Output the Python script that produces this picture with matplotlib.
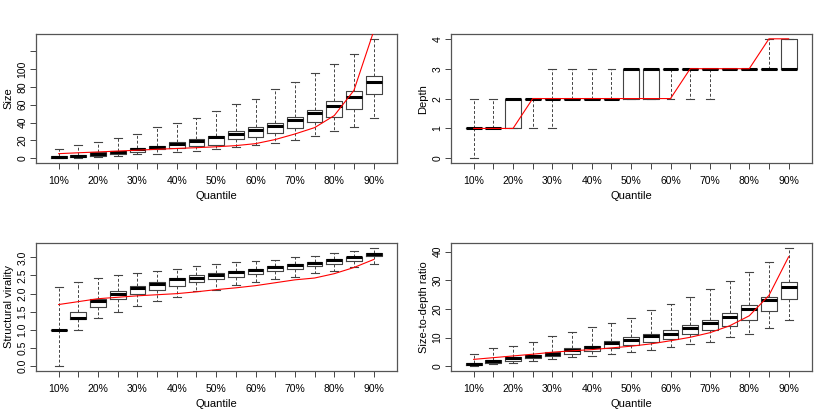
import matplotlib.pyplot as plt

plt.rcParams['font.family'] = ['Liberation Sans', 'DejaVu Sans']

# 17 quantile positions, labels shown on every other one (as in R output)
quantiles = ["10%", "15%", "20%", "25%", "30%", "35%", "40%", "45%", "50%",
             "55%", "60%", "65%", "70%", "75%", "80%", "85%", "90%"]
tick_labels = ["10%", "", "20%", "", "30%", "", "40%", "", "50%",
               "", "60%", "", "70%", "", "80%", "", "90%"]

# --- Size ---
size_lo = [0, 0.7, 1.9, 3, 4.5, 5.2, 7.5, 8.6, 10.8, 13, 15, 17.5, 21, 24.6, 30, 35.4, 44.8]
size_q1 = [0.4, 1.5, 3, 4.5, 7, 10, 11.6, 13.8, 15, 21.6, 24, 28.7, 33.6, 40.7, 46.6, 55.6, 72]
size_med = [1.5, 2.6, 5.2, 7.1, 10.4, 13, 16.4, 19.4, 23.5, 27.6, 32, 36.6, 43, 50.4, 58, 69, 85.4]
size_q3 = [2.2, 3.7, 6.7, 8.6, 12, 14, 18.3, 22, 25, 30, 35, 40, 46.6, 54, 64, 75.4, 92]
size_hi = [10.8, 14.6, 18.7, 23, 27.6, 34.7, 40, 45, 52.6, 60.8, 66.8, 77, 85.8, 95, 105.6, 117, 133.6]
size_line = [5.2, 6.2, 7.1, 8.1, 9.1, 10.1, 11.0, 11.9, 12.9, 14.2, 16.4, 21, 27.2, 34.3, 47.8, 76, 142]

# --- Depth ---
depth_lo = [0, 1, 1, 1, 1, 2, 2, 2, 2, 2, 2, 2, 2, 3, 3, 3, 3]
depth_q1 = [1, 1, 1, 2, 2, 2, 2, 2, 2, 2, 3, 3, 3, 3, 3, 3, 3]
depth_med = [1, 1, 2, 2, 2, 2, 2, 2, 3, 3, 3, 3, 3, 3, 3, 3, 3]
depth_q3 = [1, 1, 2, 2, 2, 2, 2, 2, 3, 3, 3, 3, 3, 3, 3, 3, 4]
depth_hi = [2, 2, 2, 2, 3, 3, 3, 3, 3, 3, 3, 3, 3, 3, 3, 4, 4]
depth_line = [1, 1, 1, 2, 2, 2, 2, 2, 2, 2, 2, 3, 3, 3, 3, 4, 4]

# --- Structural virality ---
vir_lo = [0, 1.0, 1.33, 1.5, 1.66, 1.8, 1.92, 2.06, 2.11, 2.24, 2.32, 2.39, 2.47, 2.56, 2.63, 2.72, 2.81]
vir_q1 = [1.0, 1.31, 1.63, 1.86, 2.0, 2.11, 2.22, 2.33, 2.39, 2.46, 2.54, 2.61, 2.68, 2.75, 2.83, 2.9, 3.03]
vir_med = [1.0, 1.33, 1.80, 2.0, 2.15, 2.27, 2.39, 2.44, 2.52, 2.59, 2.64, 2.72, 2.79, 2.84, 2.92, 3.0, 3.09]
vir_q3 = [1.0, 1.5, 1.85, 2.08, 2.22, 2.33, 2.42, 2.50, 2.56, 2.61, 2.69, 2.75, 2.83, 2.88, 2.95, 3.02, 3.12]
vir_hi = [2.19, 2.31, 2.43, 2.5, 2.57, 2.63, 2.69, 2.77, 2.83, 2.86, 2.91, 2.94, 3.0, 3.05, 3.12, 3.17, 3.27]
vir_line = [1.70, 1.78, 1.86, 1.90, 1.94, 1.97, 2.0, 2.05, 2.11, 2.16, 2.22, 2.30, 2.38, 2.43, 2.55, 2.72, 2.94]

# --- Size-to-depth ratio ---
ratio_lo = [0, 0.8, 1.0, 2.0, 2.4, 3.1, 3.5, 4.2, 5.1, 5.6, 6.6, 7.6, 8.5, 10.1, 11.3, 13.2, 16.1]
ratio_q1 = [0.5, 1.3, 1.75, 2.8, 3.7, 4.4, 5.4, 6.4, 7.3, 8.4, 9.6, 11.2, 12.5, 14.0, 16.3, 19.3, 23.5]
ratio_med = [0.8, 1.9, 2.8, 3.5, 4.4, 5.7, 6.8, 8.0, 9.1, 10.4, 11.4, 13.4, 15.2, 17.1, 19.8, 23.0, 27.5]
ratio_q3 = [1.3, 2.2, 3.15, 4.1, 5.1, 6.2, 7.2, 8.7, 10.1, 11.1, 12.6, 14.3, 16.1, 18.4, 21.2, 24.3, 29.4]
ratio_hi = [4.4, 6.2, 7.0, 8.6, 10.5, 12.1, 13.8, 15.0, 17.0, 19.5, 21.8, 24.2, 27.0, 29.8, 32.8, 36.2, 41.4]
ratio_line = [2.4, 3.0, 3.6, 4.2, 4.9, 5.4, 5.8, 6.4, 7.0, 7.8, 8.9, 10.1, 11.7, 14.1, 17.6, 24.7, 38.2]


def draw_panel(ax, lo, q1, med, q3, hi, line, yticks, yticklabels, ylabel):
    stats = [dict(whislo=a, q1=b, med=c, q3=d, whishi=e)
             for a, b, c, d, e in zip(lo, q1, med, q3, hi)]
    pos = list(range(1, len(stats) + 1))
    ax.bxp(stats, positions=pos, widths=0.8, capwidths=0.4, showfliers=False,
           boxprops=dict(color='#444444', lw=0.8),
           medianprops=dict(color='black', lw=2.2, solid_capstyle='butt'),
           whiskerprops=dict(color='#444444', lw=0.7, linestyle=(0, (3, 2))),
           capprops=dict(color='#444444', lw=0.8))
    ax.plot(pos, line, color='red', lw=0.8, zorder=5)

    mn, mx = min(lo), max(hi)
    r = mx - mn
    ax.set_ylim(mn - 0.04 * r, mx + 0.04 * r)
    ax.set_xlim(-0.15, 18.19)
    ax.set_xticks(pos)
    ax.set_xticklabels(tick_labels)
    ax.set_yticks(yticks)
    ax.set_yticklabels(yticklabels, rotation=90, va='center')
    ax.tick_params(axis='both', labelsize=7.5, length=4, width=0.7, color='#444444')
    ax.tick_params(axis='x', pad=5)
    ax.tick_params(axis='y', pad=2)
    ax.set_xlabel('Quantile', fontsize=8, labelpad=4)
    ax.set_ylabel(ylabel, fontsize=8, labelpad=3)
    for s in ax.spines.values():
        s.set_color('#555555')
        s.set_linewidth(0.9)


fig = plt.figure(figsize=(8.3, 4.15), dpi=100)
ax1 = fig.add_axes([0.0434, 0.607, 0.435, 0.311])
ax2 = fig.add_axes([0.5434, 0.607, 0.435, 0.311])
ax3 = fig.add_axes([0.0434, 0.106, 0.435, 0.309])
ax4 = fig.add_axes([0.5434, 0.106, 0.435, 0.309])

draw_panel(ax1, size_lo, size_q1, size_med, size_q3, size_hi, size_line,
           [0, 20, 40, 60, 80, 100, 120], ['0', '20', '40', '60', '80', '100', ''], 'Size')
draw_panel(ax2, depth_lo, depth_q1, depth_med, depth_q3, depth_hi, depth_line,
           [0, 1, 2, 3, 4], ['0', '1', '2', '3', '4'], 'Depth')
draw_panel(ax3, vir_lo, vir_q1, vir_med, vir_q3, vir_hi, vir_line,
           [0, 0.5, 1.0, 1.5, 2.0, 2.5, 3.0],
           ['0.0', '0.5', '1.0', '1.5', '2.0', '2.5', '3.0'], 'Structural virality')
draw_panel(ax4, ratio_lo, ratio_q1, ratio_med, ratio_q3, ratio_hi, ratio_line,
           [0, 10, 20, 30, 40], ['0', '10', '20', '30', '40'], 'Size-to-depth ratio')

fig.savefig('out.png', dpi=100)
